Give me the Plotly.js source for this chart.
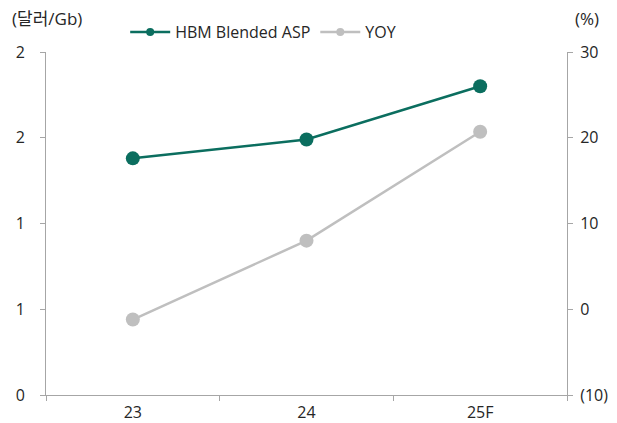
<!DOCTYPE html>
<html>
<head>
<meta charset="utf-8">
<script src="https://cdn.plot.ly/plotly-3.0.1.min.js"></script>
<style>
  html, body { margin: 0; padding: 0; background: #fff; }
  #chart { width: 617px; height: 423px; }
</style>
</head>
<body>
<div id="chart"></div>
<script>
// Categories (years) and series
const years = ['23', '24', '25F'];
const aspValues = [1.38, 1.49, 1.80];      // HBM Blended ASP, 달러/Gb
const yoyValues = [-1.2, 8.0, 20.7];       // YOY, %

// Axis tick labels
const leftTickVals = [0, 0.5, 1, 1.5, 2];
const leftTickText = ['0', '1', '1', '2', '2'];
const rightTickVals = [-10, 0, 10, 20, 30];
const rightTickText = ['(10)', '0', '10', '20', '30'];

const FONT = '"Segoe UI", "Open Sans", "Noto Sans CJK KR", sans-serif';
const TEAL = '#0B6E5F';
const GREY = '#BFBFBF';
const AXIS = '#A6A6A6';
const TEXT = '#262626';

const series = [
  { name: 'HBM Blended ASP', y: aspValues, axis: 'y', color: TEAL },
  { name: 'YOY', y: yoyValues, axis: 'y2', color: GREY }
];

const traces = [];
// plotted lines with large markers
series.forEach(s => traces.push({
  x: years, y: s.y, name: s.name, yaxis: s.axis,
  type: 'scatter', mode: 'lines+markers', showlegend: false,
  line: { color: s.color, width: 2.5 },
  marker: { color: s.color, size: 14 }
}));
// legend keys use a smaller marker than the plotted points
series.forEach(s => traces.push({
  x: [null], y: [null], name: s.name, yaxis: s.axis,
  type: 'scatter', mode: 'lines+markers', showlegend: true,
  line: { color: s.color, width: 2.5 },
  marker: { color: s.color, size: 8 },
  hoverinfo: 'skip'
}));

const layout = {
  width: 617, height: 423,
  margin: { l: 46, r: 50, t: 52, b: 28 },
  paper_bgcolor: '#fff', plot_bgcolor: '#fff',
  font: { family: FONT, size: 16, color: TEXT },
  showlegend: true,
  legend: {
    orientation: 'h', x: 0.152, xanchor: 'left', y: 1.058, yanchor: 'middle',
    font: { size: 16, color: TEXT }, itemwidth: 40, traceorder: 'normal',
    bgcolor: 'rgba(0,0,0,0)'
  },
  xaxis: {
    type: 'category', range: [-0.5, 2.5],
    showline: true, linecolor: AXIS, linewidth: 1,
    ticks: 'outside', tickson: 'boundaries', ticklen: 5, tickcolor: AXIS,
    showgrid: false, zeroline: false,
    tickfont: { size: 16, color: TEXT }, ticklabelstandoff: 3
  },
  yaxis: {
    range: [0, 2], tickvals: leftTickVals, ticktext: leftTickText,
    showline: true, linecolor: AXIS, linewidth: 1,
    ticks: 'outside', ticklen: 5, tickcolor: AXIS,
    showgrid: false, zeroline: false,
    tickfont: { size: 16, color: TEXT }, ticklabelstandoff: 12
  },
  yaxis2: {
    overlaying: 'y', side: 'right',
    range: [-10, 30], tickvals: rightTickVals, ticktext: rightTickText,
    showline: true, linecolor: AXIS, linewidth: 1,
    ticks: 'outside', ticklen: 5, tickcolor: AXIS,
    showgrid: false, zeroline: false,
    tickfont: { size: 16, color: TEXT }, ticklabelstandoff: 4
  },
  annotations: [
    { text: '(달러/Gb)', xref: 'paper', yref: 'paper', x: -0.069, y: 1.098,
      xanchor: 'left', yanchor: 'middle', showarrow: false,
      font: { size: 17, color: TEXT } },
    { text: '(%)', xref: 'paper', yref: 'paper', x: 1.065, y: 1.098,
      xanchor: 'right', yanchor: 'middle', showarrow: false,
      font: { size: 17, color: TEXT } }
  ]
};

Plotly.newPlot('chart', traces, layout, { displayModeBar: false, staticPlot: true });
</script>
</body>
</html>
